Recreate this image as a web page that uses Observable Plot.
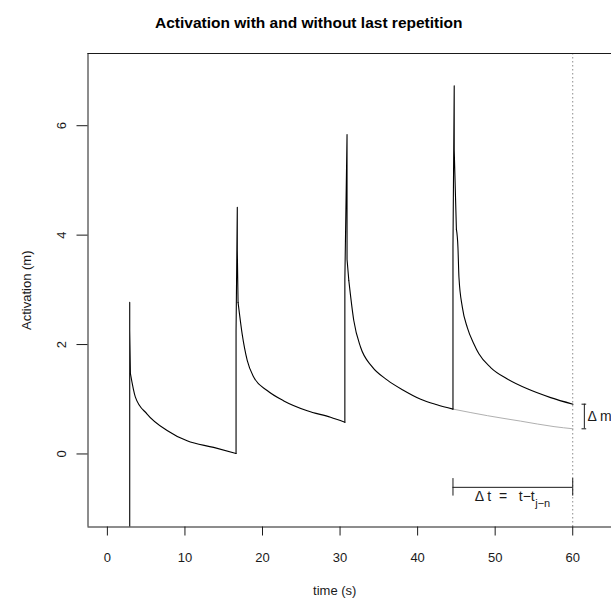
<!DOCTYPE html>
<html><head><meta charset="utf-8">
<script src="https://cdn.jsdelivr.net/npm/d3@7"></script>
<script src="https://cdn.jsdelivr.net/npm/@observablehq/plot@0.6"></script>
<style>body{margin:0;background:#fff;} svg{display:block}</style>
</head><body><div id="chart"></div>
<script>
// ---- data ----
const titleText = "Activation with and without last repetition";
const xLabel = "time (s)";
const yLabel = "Activation (m)";
const xDomain = [-2.5, 65.0];
const yDomain = [-1.335, 7.32];
const xTicks = [0, 10, 20, 30, 40, 50, 60];
const yTicks = [0, 2, 4, 6];

// spikes at each repetition (vertical jumps)
const spike1T = [2.88, 2.88, 2.88, 2.97];
const spike1M = [-1.6, 2.77, 2.26, 1.47];
const spike2T = [16.59, 16.59, 16.75, 16.75, 16.85];
const spike2M = [0.01, 2.24, 4.51, 3.73, 2.77];
const spike3T = [30.62, 30.62, 30.9, 30.9, 31.13];
const spike3M = [0.58, 3.2, 5.84, 3.56, 3.17];
const spike4T = [44.56, 44.56, 44.72, 44.72, 45.0];
const spike4M = [0.82, 3.78, 6.73, 5.56, 4.11];

// decay between repetitions
const decay1T = [2.97, 3.61, 5.12, 7.70, 10.28, 13.7, 16.59];
const decay1M = [1.47, 1.04, 0.73, 0.43, 0.24, 0.12, 0.01];
const decay2T = [16.85, 17.38, 18.03, 18.88, 20.6, 22.75, 25.77, 28.77, 30.62];
const decay2M = [2.77, 2.19, 1.71, 1.40, 1.16, 0.97, 0.79, 0.67, 0.58];
const decay3T = [31.13, 31.77, 32.65, 34.1, 36.1, 38.1, 40.4, 42.5, 44.56];
const decay3M = [3.17, 2.44, 1.95, 1.6, 1.35, 1.17, 1.0, 0.9, 0.82];
const decay4T = [45.0, 45.2, 45.33, 45.77, 46.41, 47.26, 47.9, 49.42, 51.57, 54.15, 57.16, 60.04];
const decay4M = [4.11, 3.78, 3.23, 2.68, 2.31, 2.01, 1.83, 1.58, 1.37, 1.19, 1.03, 0.91];

// without last repetition (grey)
const withoutT = [44.56, 48.99, 53.29, 57.59, 60.04];
const withoutM = [0.82, 0.70, 0.60, 0.50, 0.46];

// annotations
const nowT = [60];
const deltaTSpan = [44.56, 60];
const deltaTLevel = [-0.61];
const deltaTCap = [-0.45, -0.77];
const deltaTLabelT = [55.1];
const deltaTLabelM = [-0.78];
const deltaTSubM = [-0.9];
const deltaMSpan = [0.91, 0.46];
const deltaMT = [61.5];
const deltaMCap = [61.2, 61.8];
const deltaMLabelT = [61.9];

// ---- build tables ----
const rows = (ts, ms, part) => ts.map((t, i) => ({t, m: ms[i], part}));
const spikes = [
  ...rows(spike1T, spike1M, 1), ...rows(spike2T, spike2M, 2),
  ...rows(spike3T, spike3M, 3), ...rows(spike4T, spike4M, 4)
];
const decays = [
  ...rows(decay1T, decay1M, 1), ...rows(decay2T, decay2M, 2),
  ...rows(decay3T, decay3M, 3), ...rows(decay4T, decay4M, 4)
];
const without = rows(withoutT, withoutM, 0);

const font = "Liberation Sans, Arial, Helvetica, sans-serif";
const ink = "#1a1a1a";

const chart = Plot.plot({
  width: 611, height: 610,
  marginLeft: 87.5, marginRight: 0, marginTop: 53, marginBottom: 83.5,
  x: {domain: xDomain, axis: null},
  y: {domain: yDomain, axis: null},
  style: {fontFamily: font, background: "white", color: ink},
  marks: [
    // grey curve without last repetition
    Plot.line(without, {x: "t", y: "m", stroke: "#b0b0b0", strokeWidth: 1, curve: "monotone-x", clip: true}),
    // black activation curve
    Plot.line(decays, {x: "t", y: "m", z: "part", stroke: "#000", strokeWidth: 1.1, curve: "monotone-x", clip: true}),
    Plot.line(spikes, {x: "t", y: "m", z: "part", stroke: "#000", strokeWidth: 1.1, clip: true}),
    // current time
    Plot.ruleX(nowT, {stroke: "#8c8c8c", strokeDasharray: "1.5,2.5"}),
    // box (left, top, bottom)
    Plot.ruleX([xDomain[0]], {y1: yDomain[0], y2: yDomain[1], stroke: ink}),
    Plot.ruleY(yDomain, {x1: xDomain[0], x2: xDomain[1], stroke: ink}),
    // x axis
    Plot.axisX(xTicks, {anchor: "bottom", tickSize: 9, tickPadding: 17, fontSize: 13, label: null, stroke: ink, color: ink}),
    // y axis ticks (labels drawn rotated below)
    Plot.axisY(yTicks, {anchor: "left", tickSize: 11, tickFormat: () => "", label: null, stroke: ink}),
    Plot.text(yTicks, {y: d => d, text: d => String(d), frameAnchor: "left", textAnchor: "middle", rotate: -90, dx: -26, fontSize: 13, fill: ink}),
    // axis titles and main title
    Plot.text([xLabel], {text: d => d, frameAnchor: "bottom", dy: 68, dx: -15, fontSize: 13, fill: ink}),
    Plot.text([yLabel], {text: d => d, frameAnchor: "left", textAnchor: "middle", rotate: -90, dx: -61, fontSize: 13, fill: ink}),
    Plot.text([titleText], {text: d => d, frameAnchor: "top", dy: -37, dx: -41, fontSize: 15.5, fontWeight: "bold", fill: "#000"}),
    // delta t bracket
    Plot.ruleY(deltaTLevel, {x1: deltaTSpan[0], x2: deltaTSpan[1], stroke: ink}),
    Plot.ruleX(deltaTSpan, {y1: deltaTCap[0], y2: deltaTCap[1], stroke: ink}),
    Plot.text(deltaTLabelT, {x: d => d, y: deltaTLabelM[0], text: () => "\u0394 t  =   t\u2212t", textAnchor: "end", fontSize: 14, fill: ink}),
    Plot.text(deltaTLabelT, {x: d => d, y: deltaTSubM[0], text: () => "j\u2212n", textAnchor: "start", dx: 0.5, fontSize: 11, fill: ink}),
    // delta m bracket
    Plot.ruleX(deltaMT, {y1: deltaMSpan[0], y2: deltaMSpan[1], stroke: ink}),
    Plot.ruleY(deltaMSpan, {x1: deltaMCap[0], x2: deltaMCap[1], stroke: ink}),
    Plot.text(deltaMLabelT, {x: d => d, y: (deltaMSpan[0] + deltaMSpan[1]) / 2, text: () => "\u0394 m", textAnchor: "start", fontSize: 14, fill: ink})
  ]
});
document.getElementById("chart").appendChild(chart);
</script>
</body></html>
